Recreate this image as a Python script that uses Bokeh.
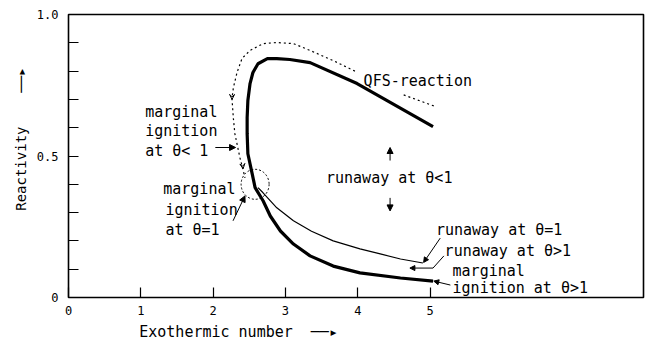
from bokeh.embed import file_html
from bokeh.models import Arrow, FixedTicker, Label, NormalHead, VeeHead
from bokeh.plotting import figure
from bokeh.resources import INLINE

# Ignition curve (thick): reactivity vs exothermic number
ign_x = [5.04, 3.99, 3.34, 3.06, 2.88, 2.75, 2.62, 2.55, 2.51, 2.48, 2.47, 2.47,
         2.48, 2.54, 2.58, 2.69, 2.79, 2.93, 3.11, 3.34, 3.66, 4.03, 4.59, 5.04]
ign_y = [0.604, 0.756, 0.830, 0.841, 0.844, 0.844, 0.826, 0.795, 0.756, 0.696, 0.635, 0.579,
         0.508, 0.437, 0.388, 0.342, 0.288, 0.235, 0.189, 0.147, 0.111, 0.087, 0.069, 0.058]

# Runaway boundary at theta = 1 (thin)
run_x = [2.62, 2.69, 2.88, 3.11, 3.36, 3.66, 4.03, 4.31, 4.59, 4.90]
run_y = [0.388, 0.370, 0.317, 0.271, 0.234, 0.200, 0.172, 0.154, 0.136, 0.122]

# QFS-reaction curve (dotted), split around its label
qfs_tail_x = [5.05, 4.60]
qfs_tail_y = [0.677, 0.719]
qfs_x = [3.96, 3.66, 3.34, 3.11, 2.88, 2.69, 2.51, 2.40, 2.33, 2.28, 2.26,
         2.28, 2.30, 2.33, 2.37, 2.41, 2.44]
qfs_y = [0.800, 0.837, 0.873, 0.897, 0.901, 0.897, 0.873, 0.845, 0.795, 0.742, 0.703,
         0.632, 0.579, 0.543, 0.494, 0.455, 0.423]

# Marginal ignition point at theta = 1
marg_x = [2.58]
marg_y = [0.400]

x_ticks = [0, 1, 2, 3, 4, 5]
y_major = [0, 0.5, 1.0]
y_minor = [0.1, 0.2, 0.3, 0.4, 0.6, 0.7, 0.8, 0.9]
y_tick_labels = {0: "0", 0.5: "0.5", 1: "1.0"}

FONT = "DejaVu Sans Mono"
NB = "\u00a0"
ARROW = "──▸"

p = figure(width=648, height=346, x_range=(0, 7.95), y_range=(0, 1),
           output_backend="svg", toolbar_location=None,
           min_border_left=68, min_border_right=5, min_border_top=14, min_border_bottom=49)
p.background_fill_color = "white"
p.border_fill_color = "white"
p.grid.visible = False
p.outline_line_color = "black"
p.outline_line_width = 1.6

for ax in (p.xaxis[0], p.yaxis[0]):
    ax.axis_line_color = None
    ax.major_tick_in = 10
    ax.major_tick_out = 0
    ax.minor_tick_in = 10
    ax.minor_tick_out = 0
    ax.major_tick_line_color = "black"
    ax.minor_tick_line_color = "black"
    ax.major_tick_line_width = 1.2
    ax.minor_tick_line_width = 1.2
    ax.major_label_text_font = FONT
    ax.major_label_text_font_size = "12px"
    ax.major_label_text_color = "black"
    ax.axis_label_text_font = FONT
    ax.axis_label_text_font_style = "normal"
    ax.axis_label_text_color = "black"
    ax.axis_label_standoff = 5

p.xaxis.ticker = FixedTicker(ticks=x_ticks)
p.xaxis.major_label_standoff = 8
p.xaxis.axis_label = "Exothermic number" + NB * 2 + ARROW + NB * 26
p.xaxis.axis_label_text_font_size = "15px"

p.yaxis.ticker = FixedTicker(ticks=y_major, minor_ticks=y_minor)
p.yaxis.major_label_overrides = y_tick_labels
p.yaxis.major_label_standoff = 10
p.yaxis.axis_label = NB * 4 + "Reactivity" + NB * 4 + ARROW
p.yaxis.axis_label_text_font_size = "14px"

p.line(qfs_x, qfs_y, line_color="black", line_width=1.2, line_dash="2 3")
p.line(qfs_tail_x, qfs_tail_y, line_color="black", line_width=1.2, line_dash="2 3")
p.line(run_x, run_y, line_color="black", line_width=1.2)
p.line(ign_x, ign_y, line_color="black", line_width=3.2)
p.ellipse(x=marg_x, y=marg_y, width=28, height=30, width_units="screen",
          height_units="screen", fill_color=None, line_color="black",
          line_width=1, line_dash="2 2")

texts = [
    ("QFS-reaction", 4.08, 0.765),
    ("marginal", 1.06, 0.655),
    ("ignition", 1.06, 0.587),
    ("at  θ< 1", 1.06, 0.519),
    ("marginal", 1.31, 0.385),
    ("ignition", 1.34, 0.310),
    ("at θ=1", 1.34, 0.240),
    ("runaway at θ<1", 3.56, 0.422),
    ("runaway at θ=1", 5.08, 0.237),
    ("runaway at θ>1", 5.20, 0.163),
    ("marginal", 5.31, 0.094),
    ("ignition  at θ>1", 5.31, 0.032),
]
for t, x, y in texts:
    p.add_layout(Label(x=x, y=y, text=t, text_font=FONT, text_font_size="15px",
                       text_baseline="middle", text_align="left", text_color="black"))


def arrow(x0, y0, x1, y1, size=6):
    p.add_layout(Arrow(end=NormalHead(size=size, fill_color="black", line_color="black"),
                       x_start=x0, y_start=y0, x_end=x1, y_end=y1,
                       line_color="black", line_width=1))


arrow(2.03, 0.530, 2.31, 0.530)          # to QFS curve
arrow(2.275, 0.271, 2.44, 0.359)         # to the circled point
arrow(4.446, 0.484, 4.446, 0.530)        # runaway up
arrow(4.446, 0.352, 4.446, 0.306)        # runaway down
arrow(5.14, 0.210, 4.91, 0.124, 5)       # runaway at theta=1
p.line([5.19, 5.04], [0.147, 0.104], line_color="black", line_width=1)
arrow(5.04, 0.104, 4.72, 0.104, 5)       # runaway at theta>1
arrow(5.28, 0.044, 5.05, 0.058, 5)       # marginal ignition at theta>1

# direction marks on the QFS curve
for x0, y0, x1, y1 in [(2.262, 0.73, 2.261, 0.70), (2.40, 0.48, 2.414, 0.455)]:
    p.add_layout(Arrow(end=VeeHead(size=5, line_color="black", fill_color=None),
                       x_start=x0, y_start=y0, x_end=x1, y_end=y1,
                       line_color=None))

open("out.html", "w").write(file_html(p, INLINE))
